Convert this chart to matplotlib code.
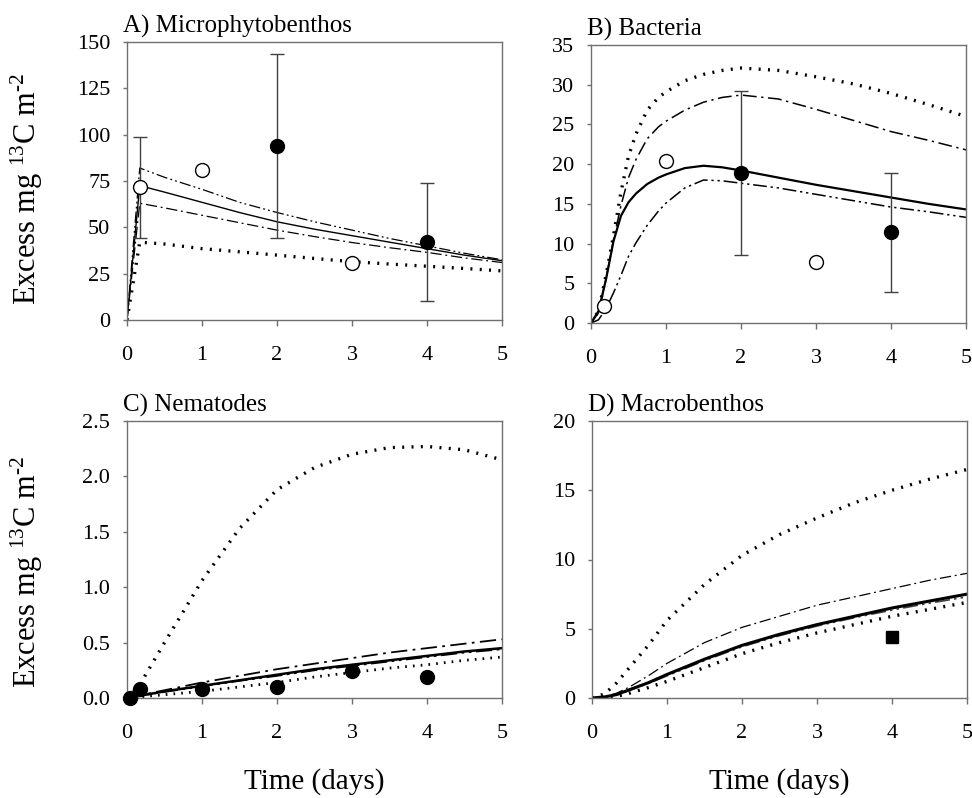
import matplotlib
matplotlib.use('Agg')
import matplotlib.pyplot as plt

# ---- Data ----
# A) Microphytobenthos
TIME_A = [0, 0.17, 0.5, 1, 1.5, 2, 2.5, 3, 3.5, 4, 4.5, 5]
A_SOLID = [0, 72.5, 69, 63.5, 58, 53, 49, 45.5, 42, 38.5, 35, 32]
A_DOTTED = [0, 42, 41, 38.5, 36.8, 35, 33.2, 31.5, 30.2, 29, 27.8, 26.5]
A_DASHDOT = [0, 63, 60.5, 56.5, 52.5, 48.5, 45, 41.8, 39, 36.5, 33.5, 31]
A_DASHDOTDOT = [0, 82, 77, 70.5, 63.5, 58, 53, 48.5, 44, 40, 36, 32.5]
A_OPEN_T = [0.17, 1, 3]
A_OPEN_Y = [71.5, 81, 31]
A_OPEN_LO = [44.5, None, None]
A_OPEN_HI = [98.5, None, None]
A_FILLED_T = [2, 4]
A_FILLED_Y = [94, 42]
A_FILLED_LO = [44.5, 10]
A_FILLED_HI = [143.5, 74]

# B) Bacteria
TIME_B = [0, 0.1, 0.2, 0.3, 0.4, 0.5, 0.6, 0.75, 0.9, 1, 1.25, 1.5, 1.75, 2, 2.5, 3, 3.5, 4, 4.5, 5]
B_SOLID = [0, 1.5, 5.5, 10.3, 13.5, 15.2, 16.3, 17.5, 18.3, 18.7, 19.5, 19.8, 19.6, 19.2, 18.3, 17.4, 16.6, 15.8, 15.0, 14.3]
B_DOTTED = [0, 1.5, 6, 11, 16.5, 21, 23.8, 26.8, 28.4, 29.1, 30.5, 31.3, 31.8, 32.1, 31.8, 31.0, 30.1, 28.9, 27.5, 26.0]
B_DASHDOT = [0, 1.3, 5.5, 10.5, 14.8, 18.3, 20.6, 23.2, 24.7, 25.4, 26.8, 27.8, 28.4, 28.7, 28.2, 26.9, 25.5, 24.1, 23.0, 21.8]
B_DASHDOTDOT = [0, 0.4, 1.8, 3.8, 6.0, 8.4, 10.1, 12.3, 14.1, 15.1, 17.0, 18.0, 17.9, 17.6, 17.0, 16.2, 15.4, 14.6, 14.0, 13.3]
B_OPEN_T = [0.17, 1, 3]
B_OPEN_Y = [2.2, 20.4, 7.7]
B_FILLED_T = [2, 4]
B_FILLED_Y = [18.9, 11.4]
B_FILLED_LO = [8.5, 3.9]
B_FILLED_HI = [29.2, 18.9]

# C) Nematodes
TIME_C = [0, 0.17, 0.5, 1, 1.5, 2, 2.5, 3, 3.5, 4, 4.5, 5]
C_DOTTED_HI = [0, 0.12, 0.5, 1.06, 1.53, 1.88, 2.08, 2.2, 2.26, 2.27, 2.24, 2.15]
C_DASHDOT = [0, 0.025, 0.07, 0.14, 0.2, 0.26, 0.31, 0.36, 0.41, 0.45, 0.49, 0.53]
C_SOLID = [0, 0.02, 0.06, 0.11, 0.16, 0.21, 0.26, 0.30, 0.34, 0.38, 0.42, 0.45]
C_DASHDOTDOT = [0, 0.02, 0.055, 0.105, 0.155, 0.2, 0.25, 0.29, 0.33, 0.37, 0.41, 0.44]
C_DOTTED_LO = [0, 0.01, 0.03, 0.06, 0.1, 0.14, 0.19, 0.23, 0.27, 0.30, 0.34, 0.37]
C_FILLED_T = [0.04, 0.17, 1, 2, 3, 4]
C_FILLED_Y = [0.0, 0.08, 0.085, 0.1, 0.245, 0.19]

# D) Macrobenthos
TIME_D = [0, 0.17, 0.33, 0.5, 0.75, 1, 1.5, 2, 2.5, 3, 3.5, 4, 4.5, 5]
D_DOTTED_HI = [0, 0.3, 1.1, 2.2, 3.8, 5.6, 8.2, 10.3, 11.8, 13.0, 14.1, 15.0, 15.8, 16.5]
D_DASHDOT = [0, 0.1, 0.35, 0.8, 1.6, 2.5, 4.0, 5.1, 5.9, 6.7, 7.3, 7.9, 8.5, 9.0]
D_SOLID = [0, 0.08, 0.25, 0.6, 1.1, 1.7, 2.8, 3.8, 4.6, 5.3, 5.9, 6.5, 7.0, 7.5]
D_DASHDOTDOT = [0, 0.07, 0.22, 0.55, 1.05, 1.6, 2.7, 3.7, 4.5, 5.2, 5.8, 6.35, 6.85, 7.3]
D_DOTTED_LO = [0, 0.03, 0.12, 0.35, 0.75, 1.2, 2.2, 3.2, 4.0, 4.7, 5.3, 5.9, 6.4, 6.9]
D_SQUARE_T = [4]
D_SQUARE_Y = [4.4]

X_TICKS = [0, 1, 2, 3, 4, 5]
TITLES = ['A) Microphytobenthos', 'B) Bacteria', 'C) Nematodes', 'D) Macrobenthos']
Y_LABEL = r'Excess mg $^{13}$C m$^{\text{-2}}$'
X_LABEL = 'Time (days)'

# ---- Style ----
plt.rcParams['font.family'] = ['Liberation Serif', 'DejaVu Serif']
plt.rcParams['mathtext.fontset'] = 'custom'
plt.rcParams['mathtext.rm'] = 'Liberation Serif'
plt.rcParams['mathtext.it'] = 'Liberation Serif:italic'

SPINE_COLOR = '#707070'
DOTTED = (0, (0.6, 2.2))
DASHDOT = (0, (9, 3, 1.5, 3))
DASHDOTDOT = (0, (9, 2.5, 1.5, 2.5, 1.5, 2.5))

FIG_W, FIG_H = 972, 798


def px_axes(fig, left, top, right, bottom):
    return fig.add_axes([left / FIG_W, 1 - bottom / FIG_H, (right - left) / FIG_W, (bottom - top) / FIG_H])


def style_axes(ax, title, y_max, y_step, y_fmt):
    ax.set_xlim(0, 5)
    ax.set_ylim(0, y_max)
    ax.set_xticks(X_TICKS)
    ticks = [i * y_step for i in range(int(round(y_max / y_step)) + 1)]
    ax.set_yticks(ticks)
    ax.set_yticklabels([y_fmt.format(t) for t in ticks])
    for sp in ax.spines.values():
        sp.set_color(SPINE_COLOR)
        sp.set_linewidth(1.0)
    ax.tick_params(axis='x', direction='out', length=4, width=1, color=SPINE_COLOR,
                   labelsize=16, pad=15)
    ax.tick_params(axis='y', direction='out', length=3, width=1, color=SPINE_COLOR,
                   labelsize=16, pad=9)
    ax.set_title(title, loc='left', fontsize=18, pad=7, x=-0.01)


def error_bars(ax, ts, ys, los, his):
    for t, y, lo, hi in zip(ts, ys, los, his):
        if lo is None:
            continue
        ax.errorbar([t], [y], yerr=[[y - lo], [hi - y]], fmt='none', ecolor='#404040',
                    elinewidth=1.0, capsize=5, capthick=1.0, zorder=2)


def open_pts(ax, ts, ys):
    ax.plot(ts, ys, 'o', ms=10, mfc='white', mec='black', mew=1.0, zorder=5, clip_on=False)


def filled_pts(ax, ts, ys):
    ax.plot(ts, ys, 'o', ms=10, mfc='black', mec='black', zorder=5, clip_on=False)


fig = plt.figure(figsize=(FIG_W / 100, FIG_H / 100), dpi=100)

# A
ax = px_axes(fig, 127, 42, 502, 320)
ax.plot(TIME_A, A_DOTTED, color='black', lw=2.4, ls=DOTTED)
ax.plot(TIME_A, A_DASHDOT, color='black', lw=0.9, ls=DASHDOT)
ax.plot(TIME_A, A_SOLID, color='black', lw=1.0)
ax.plot(TIME_A, A_DASHDOTDOT, color='black', lw=0.9, ls=DASHDOTDOT)
error_bars(ax, A_OPEN_T, A_OPEN_Y, A_OPEN_LO, A_OPEN_HI)
error_bars(ax, A_FILLED_T, A_FILLED_Y, A_FILLED_LO, A_FILLED_HI)
open_pts(ax, A_OPEN_T, A_OPEN_Y)
filled_pts(ax, A_FILLED_T, A_FILLED_Y)
style_axes(ax, TITLES[0], 150, 25, '{:g}')

# B
ax = px_axes(fig, 591, 45, 966, 323)
ax.plot(TIME_B, B_DOTTED, color='black', lw=2.4, ls=DOTTED)
ax.plot(TIME_B, B_DASHDOT, color='black', lw=1.1, ls=DASHDOT)
ax.plot(TIME_B, B_SOLID, color='black', lw=1.6)
ax.plot(TIME_B, B_DASHDOTDOT, color='black', lw=1.1, ls=DASHDOTDOT)
error_bars(ax, B_FILLED_T, B_FILLED_Y, B_FILLED_LO, B_FILLED_HI)
open_pts(ax, B_OPEN_T, B_OPEN_Y)
filled_pts(ax, B_FILLED_T, B_FILLED_Y)
style_axes(ax, TITLES[1], 35, 5, '{:g}')

# C
ax = px_axes(fig, 127, 421, 502, 698)
ax.plot(TIME_C, C_DOTTED_HI, color='black', lw=2.4, ls=DOTTED)
ax.plot(TIME_C, C_DOTTED_LO, color='black', lw=2.0, ls=DOTTED)
ax.plot(TIME_C, C_DASHDOT, color='black', lw=1.3, ls=DASHDOT)
ax.plot(TIME_C, C_DASHDOTDOT, color='black', lw=1.3, ls=DASHDOTDOT)
ax.plot(TIME_C, C_SOLID, color='black', lw=1.8)
filled_pts(ax, C_FILLED_T, C_FILLED_Y)
style_axes(ax, TITLES[2], 2.5, 0.5, '{:.1f}')

# D
ax = px_axes(fig, 592, 421, 967, 698)
ax.plot(TIME_D, D_DOTTED_HI, color='black', lw=2.4, ls=DOTTED)
ax.plot(TIME_D, D_DOTTED_LO, color='black', lw=2.4, ls=DOTTED)
ax.plot(TIME_D, D_DASHDOT, color='black', lw=0.9, ls=DASHDOT)
ax.plot(TIME_D, D_DASHDOTDOT, color='#404040', lw=1.2, ls=DASHDOTDOT)
ax.plot(TIME_D, D_SOLID, color='black', lw=2.2)
ax.plot(D_SQUARE_T, D_SQUARE_Y, 's', ms=9, color='black', zorder=5)
style_axes(ax, TITLES[3], 20, 5, '{:g}')

# shared axis labels
fig.text(27 / FIG_W, 1 - 189 / FIG_H, Y_LABEL, rotation=90, ha='center', va='center', fontsize=22)
fig.text(27 / FIG_W, 1 - 572 / FIG_H, Y_LABEL, rotation=90, ha='center', va='center', fontsize=22)
fig.text(314 / FIG_W, 1 - 782 / FIG_H, X_LABEL, ha='center', va='center', fontsize=21)
fig.text(779 / FIG_W, 1 - 782 / FIG_H, X_LABEL, ha='center', va='center', fontsize=21)

fig.savefig('out.png', dpi=100)
